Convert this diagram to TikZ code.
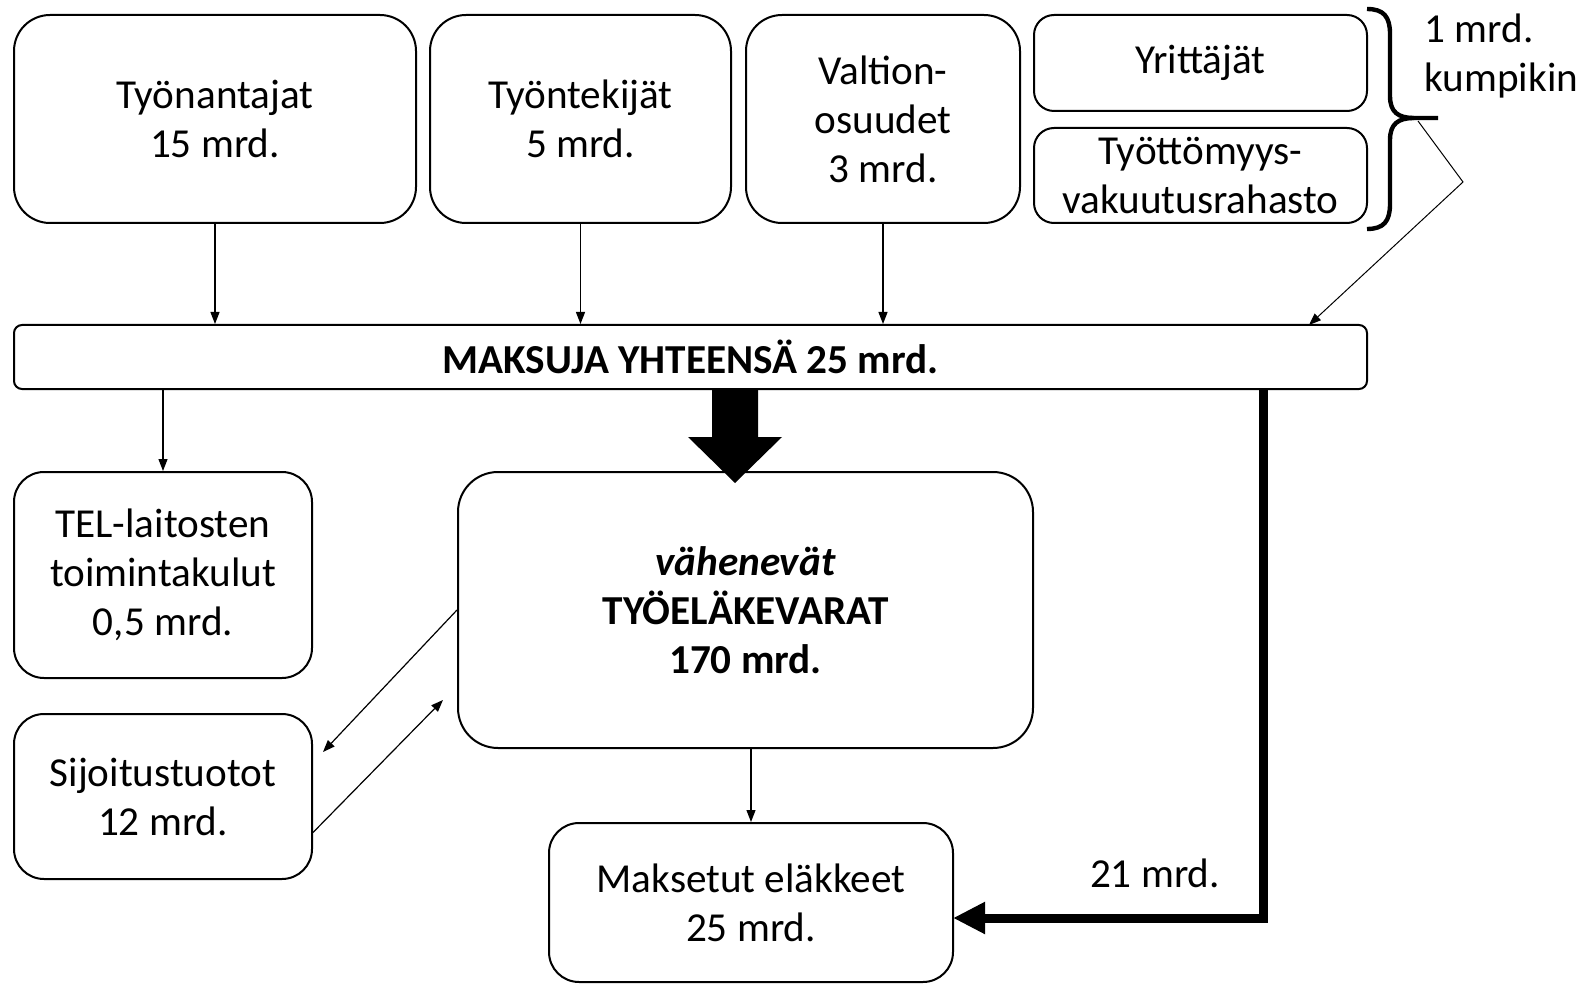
\documentclass[tikz,border=0pt]{standalone}
\usepackage{fontspec}
\setmainfont{Carlito}
\usetikzlibrary{arrows.meta,calc}
\begin{document}
\begin{tikzpicture}[x=0.5pt,y=-0.5pt,
  txt/.style={font=\fontsize{20.6}{24.5}\selectfont},
  box/.style={draw,line width=1pt,rounded corners=#1,align=center,inner sep=0pt,txt},
  box/.default=15pt,
  thin/.style={line width=0.6pt,-{Triangle[length=6pt,width=4.5pt]}},
  heavy/.style={line width=4.5pt,-{Triangle[length=16pt,width=15pt]}}]
\useasboundingbox (0,0) rectangle (1591,984);
% top row
\node[box=18pt,minimum width=201pt,minimum height=104pt] (b1) at (215,119) {Työnantajat\\15 mrd.};
\node[box=18pt,minimum width=150.5pt,minimum height=104pt] (b2) at (580.5,119) {Työntekijät\\5 mrd.};
\node[box=18pt,minimum width=137pt,minimum height=104pt] (b3) at (883,119) {Valtion-\\osuudet\\3 mrd.};
\node[box=10pt,minimum width=166.5pt,minimum height=48pt] (yr) at (1200.5,63) {Yrittäjät};
\node[box=10pt,minimum width=166.5pt,minimum height=47.5pt] (ty) at (1200.5,175.5) {Työttömyys-\\vakuutusrahasto};
\node[txt,anchor=west,align=left,inner sep=0pt] (km) at (1424,56) {1 mrd.\\kumpikin};
% brace
\draw[line width=2.2pt] (1367,9) .. controls (1384,9) and (1390,17) .. (1390,34) -- (1390,96)
  .. controls (1390,112) and (1398,118) .. (1414,118) -- (1438,118);
\draw[line width=2.2pt] (1414,118) .. controls (1398,118) and (1390,124) .. (1390,140) -- (1390,204)
  .. controls (1390,221) and (1384,229) .. (1367,229);
% sum bar
\node[box=4pt,minimum width=676.5pt,minimum height=32pt,font=\fontsize{20.6}{24.5}\selectfont\bfseries] (mak) at (690.5,357) {MAKSUJA YHTEENSÄ 25 mrd.};
% lower boxes
\node[box=15pt,minimum width=149pt,minimum height=103pt] (tel) at (163,575) {TEL-laitosten\\toimintakulut\\0,5 mrd.};
\node[box=20pt,minimum width=287.5pt,minimum height=138pt] (cen) at (745.5,610) {\textit{\textbf{vähenevät}}\\\textbf{TYÖELÄKEVARAT}\\\textbf{170 mrd.}};
\node[box=15pt,minimum width=149pt,minimum height=82.5pt] (sij) at (163,796.5) {Sijoitustuotot\\12 mrd.};
\node[box=15pt,minimum width=202pt,minimum height=79.5pt] (mks) at (751,902.5) {Maksetut eläkkeet\\25 mrd.};
\node[txt,inner sep=0pt] (l21) at (1155,873) {21 mrd.};
% connectors
\draw[thin] (b1.south) -- (b1.south |- mak.north);
\draw[thin] (b2.south) -- (b2.south |- mak.north);
\draw[thin] (b3.south) -- (b3.south |- mak.north);
\coordinate (br) at (1418,121);
\coordinate (bk) at (1463,182);
\coordinate (mt) at (1309,325);
\draw[thin,line width=0.5pt] (br) -- (bk) -- (mt);
\draw[thin] (mak.south -| tel.north) -- (tel.north);
\coordinate (a1) at (323,752);
\coordinate (a2) at (443,700);
\draw[thin] (cen.west) -- (a1);
\draw[thin] ($(sij.east)+(0,36)$) -- (a2);
\draw[thin] (cen.south -| mks.north) -- (mks.north);
% big block arrow
\fill (712,389) -- (758,389) -- (758,437) -- (782,437) -- (735,483) -- (688,437) -- (712,437) -- cycle;
% heavy arrow to paid pensions
\coordinate (t1) at (1263,389);
\coordinate (t2) at (953,918);
\draw[heavy] (t1) |- (t2);
\end{tikzpicture}
\end{document}
